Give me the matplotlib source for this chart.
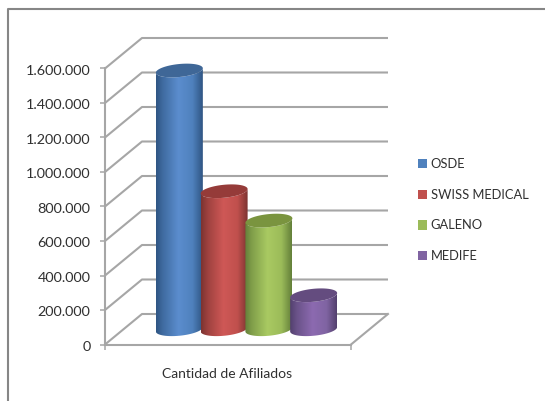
import matplotlib
matplotlib.use("Agg")
import matplotlib.pyplot as plt
import numpy as np
from matplotlib.colors import to_rgb
from matplotlib.lines import Line2D
from matplotlib.patches import Patch, PathPatch, Polygon
from matplotlib.path import Path
from matplotlib.transforms import ScaledTranslation

plt.rcParams['font.family'] = ['Lato', 'DejaVu Sans']

W, H = 545, 401

companies = ["OSDE", "SWISS MEDICAL", "GALENO", "MEDIFE"]
afiliados = [1500000, 800000, 630000, 197000]
category = "Cantidad de Afiliados"
y_ticks = [0, 200000, 400000, 600000, 800000, 1000000, 1200000, 1400000, 1600000]

base_colors = ["#4f81bd", "#c0504d", "#9bbb59", "#8064a2"]
# edge, bright centre, top cap
shades = [("#2f5583", "#5b8dce", "#3f6797"),
          ("#7c3331", "#cf5856", "#953b39"),
          ("#64803a", "#a9ca62", "#7a943f"),
          ("#53406e", "#8c6ab0", "#644c7f")]

TEXT = "#303030"
LINE = "#a6a6a6"

fig = plt.figure(figsize=(W / 100, H / 100), dpi=100)
fig.patch.set_facecolor("white")
# front plane of the 3d box
ax = fig.add_axes([105 / W, 1 - 344.5 / H, 246 / W, 276 / H])
ax.patch.set_visible(False)
ax.set_xlim(0, 1)
ax.set_ylim(0, 1600000)

# outer frame, only top and left
fig.add_artist(Line2D([7.5 / W, 7.5 / W, 1], [0, 1 - 8.5 / H, 1 - 8.5 / H], color="#868686", lw=1.5))

depth_x = 37 / 246
depth_y = 30.5 / 276 * 1600000

# walls
for t in y_ticks:
    ax.plot([0, depth_x, 1 + depth_x], [t, t + depth_y, t + depth_y], color=LINE, lw=1.5,
            clip_on=False, zorder=1, solid_capstyle="butt")
ax.plot([1, 1 + depth_x], [0, depth_y], color=LINE, lw=1.5, clip_on=False, zorder=1)

# cylinders
spacing = 0.182
half_w = 0.0955
ry = 6.5 / 276 * 1600000
tilt = 2.2 / 276 * 1600000
theta = np.linspace(0, 2 * np.pi, 90)


def ellipse(cx, cy, th):
    return cx + half_w * np.cos(th), cy + ry * np.sin(th) + tilt * np.cos(th)


for i, (val, shade) in enumerate(zip(afiliados, shades)):
    cx = 0.5 + (i - 1.5) * spacing + depth_x / 2
    y0 = depth_y / 2
    y1 = y0 + val

    # body outline: lower half of the base ellipse, then back along the top
    xb, yb = ellipse(cx, y0, np.linspace(np.pi, 2 * np.pi, 45))
    xt, yt = ellipse(cx, y1, np.linspace(2 * np.pi, np.pi, 45))
    verts = np.column_stack([np.r_[xb, xt], np.r_[yb, yt]])

    edge, bright, top = [np.array(to_rgb(c)) for c in shade]
    base = np.array(to_rgb(base_colors[i]))
    pos = np.linspace(0, 1, 120)
    stops = [0, 0.14, 0.48, 0.78, 1]
    cols = [edge, 0.5 * (edge + base), bright, base, edge]
    grad = np.stack([np.interp(pos, stops, [c[k] for c in cols]) for k in range(3)], axis=1)

    im = ax.imshow(grad[np.newaxis, :, :], extent=(cx - half_w, cx + half_w, y0 - 2 * ry, y1 + 2 * ry),
                   aspect="auto", interpolation="bilinear", zorder=2 + i, clip_on=True)
    clip = PathPatch(Path(verts), transform=ax.transData, facecolor="none", edgecolor="none")
    ax.add_patch(clip)
    im.set_clip_path(clip)

    xe, ye = ellipse(cx, y1, theta)
    ax.add_patch(Polygon(np.column_stack([xe, ye]), closed=True, facecolor=top, edgecolor="none",
                         zorder=2 + i, clip_on=False))

ax.set_xlim(0, 1)
ax.set_ylim(0, 1600000)

ax.spines['top'].set_visible(False)
ax.spines['right'].set_visible(False)
ax.spines['left'].set_color(LINE)
ax.spines['bottom'].set_color(LINE)
ax.spines['left'].set_linewidth(1.5)
ax.spines['bottom'].set_linewidth(1.5)
ax.set_yticks(y_ticks)
ax.set_yticklabels([f"{t:,}".replace(",", ".") for t in y_ticks], fontsize=10.4, color=TEXT)
ax.set_xticks([0, 1])
ax.set_xticklabels([])
ax.tick_params(axis="both", color=LINE, width=1.1, length=3.8)
ax.tick_params(axis="y", pad=6.5)
# labels sit about a pixel lower than matplotlib centres them
shift = ScaledTranslation(0, -1 / 72, fig.dpi_scale_trans)
for lab in ax.get_yticklabels():
    lab.set_transform(lab.get_transform() + shift)

ax.annotate(category, xy=(0.5, 0), xycoords="data", xytext=(-1, -21), textcoords="offset points",
            ha="center", va="center", fontsize=10, color=TEXT, annotation_clip=False)

handles = [Patch(facecolor=c, edgecolor="none") for c in base_colors]
fig.legend(handles, companies, loc="upper left", bbox_to_anchor=(417.5 / W, 1 - 158 / H), frameon=False,
           borderpad=0, borderaxespad=0, handlelength=0.72, handleheight=0.72, handletextpad=0.29,
           labelspacing=1.45, fontsize=9.3, labelcolor=TEXT)

fig.savefig("out.png", dpi=100)
